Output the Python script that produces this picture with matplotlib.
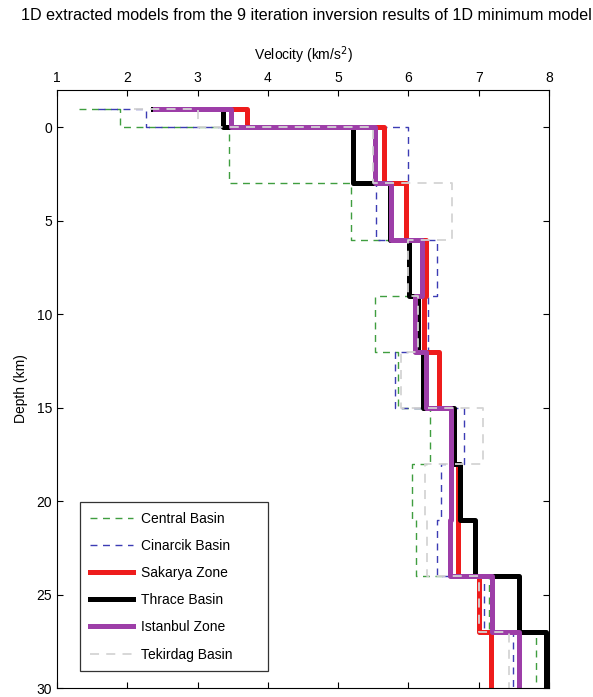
import matplotlib
matplotlib.use("Agg")
import matplotlib.pyplot as plt

plt.rcParams['font.family'] = ['Liberation Sans', 'DejaVu Sans']

# layer boundaries (km), first point sits at the top boundary
depth_edges = [-1, 0, 3, 6, 9, 12, 15, 18, 21, 24, 27, 30]

names = ["Central Basin", "Cinarcik Basin", "Sakarya Zone",
         "Thrace Basin", "Istanbul Zone", "Tekirdag Basin"]

# velocity at the very first point (depth -1)
start_v = [1.31, 1.58, 2.40, 2.37, 2.40, 2.10]

# layer velocities, one per layer between depth_edges
central = [1.90, 3.45, 5.18, 6.00, 5.52, 5.85, 6.30, 6.05, 6.11, 7.14, 7.81]
cinarcik = [2.26, 6.00, 5.54, 6.40, 6.28, 5.81, 6.79, 6.47, 6.40, 7.07, 7.49]
sakarya = [3.70, 5.65, 5.96, 6.25, 6.22, 6.44, 6.62, 6.70, 6.71, 7.00, 7.18]
thrace = [3.36, 5.21, 5.74, 6.01, 6.13, 6.21, 6.65, 6.74, 6.95, 7.58, 7.96]
istanbul = [3.48, 5.53, 5.75, 6.19, 6.10, 6.25, 6.60, 6.60, 6.59, 7.19, 7.57]
tekirdag = [3.00, 5.50, 6.62, 6.00, 6.14, 5.90, 7.06, 6.23, 6.26, 7.01, 7.43]

models = [central, cinarcik, sakarya, thrace, istanbul, tekirdag]

styles = [
    dict(color="#3f9e3f", lw=1.0, ls=(0, (5, 4))),
    dict(color="#3c3cb4", lw=1.0, ls=(0, (5, 4))),
    dict(color="#ee1c1c", lw=3.6, ls="-"),
    dict(color="black", lw=3.6, ls="-"),
    dict(color="#9d3ea8", lw=3.6, ls="-"),
    dict(color="#d4d4d4", lw=1.3, ls=(0, (5, 4))),
]


def step_path(v0, vels):
    xs, ys = [v0], [depth_edges[0]]
    for i, v in enumerate(vels):
        xs += [v, v]
        ys += [depth_edges[i], depth_edges[i + 1]]
    return xs, ys


fig = plt.figure(figsize=(5.93, 6.97), dpi=100)
ax = fig.add_axes([57 / 593, 1 - 688 / 697, 492 / 593, 598 / 697])

for name, v0, vels, st in zip(names, start_v, models, styles):
    xs, ys = step_path(v0, vels)
    ax.plot(xs, ys, label=name, **st)

ax.set_xlim(1, 8)
ax.set_ylim(30, -2)
ax.set_xticks(range(1, 9))
ax.set_yticks(range(0, 31, 5))
ax.tick_params(direction="in", top=True, right=True, labeltop=True,
               labelbottom=False, length=4, labelsize=10)
ax.xaxis.set_label_position("top")
ax.set_xlabel("Velocity (km/s$^2$)", fontsize=10, labelpad=8)
ax.set_ylabel("Depth (km)", fontsize=10, labelpad=6)

leg = ax.legend(loc="lower left", bbox_to_anchor=(0.047, 0.028, 0.382, 0.28),
                mode="expand", borderaxespad=0, fancybox=False,
                edgecolor="black", fontsize=10, handlelength=3.1,
                labelspacing=0.95, borderpad=0.7, handletextpad=0.6)
leg.get_frame().set_linewidth(0.9)

fig.text(0.517, 1 - 16 / 697, "1D extracted models from the 9 iteration inversion results of 1D minimum model",
         ha="center", va="center", fontsize=11.6)

fig.savefig("out.png", dpi=100)
